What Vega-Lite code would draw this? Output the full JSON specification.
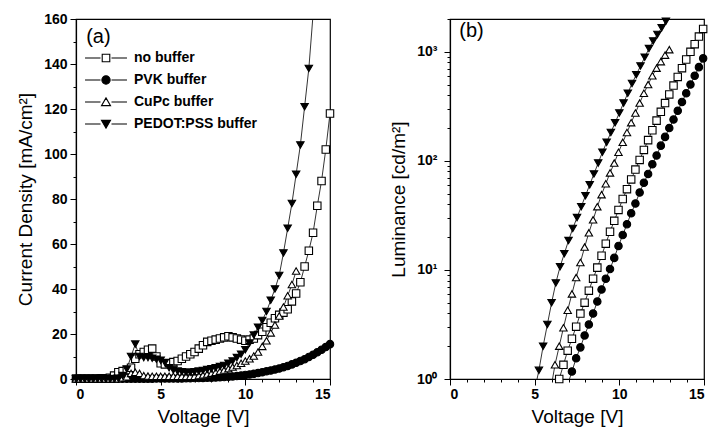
{
"$schema": "https://vega.github.io/schema/vega-lite/v6.json",
"padding": {"left": 16, "top": 11, "right": 0, "bottom": 0},
"background": "white",
"config": {
  "view": {"stroke": "black", "strokeWidth": 1.2},
  "font": "Liberation Sans",
  "axis": {"domainColor": "black", "tickColor": "black", "labelColor": "black", "titleColor": "black", "grid": false, "labelFont": "Liberation Sans", "labelFontSize": 14, "labelFontWeight": "bold", "titleFont": "Liberation Sans", "titleFontSize": 19, "titleFontWeight": "normal", "domainWidth": 1.2, "tickWidth": 1}
},
"spacing": 51,
"resolve": {"scale": {"shape": "independent", "fill": "independent", "stroke": "independent"}},
"datasets": {
"jv": [
{"s":"no buffer","V":0,"J":0.2},{"s":"no buffer","V":0.25,"J":0.2},{"s":"no buffer","V":0.5,"J":0.2},{"s":"no buffer","V":0.75,"J":0.2},{"s":"no buffer","V":1,"J":0.2},{"s":"no buffer","V":1.25,"J":0.2},{"s":"no buffer","V":1.5,"J":0.3},{"s":"no buffer","V":1.75,"J":0.3},{"s":"no buffer","V":2,"J":0.5},{"s":"no buffer","V":2.25,"J":1.5},{"s":"no buffer","V":2.5,"J":3},{"s":"no buffer","V":2.75,"J":3.5},{"s":"no buffer","V":3,"J":4},{"s":"no buffer","V":3.25,"J":5},{"s":"no buffer","V":3.5,"J":9},{"s":"no buffer","V":3.75,"J":11},{"s":"no buffer","V":4,"J":12},{"s":"no buffer","V":4.25,"J":13},{"s":"no buffer","V":4.5,"J":13.5},{"s":"no buffer","V":4.75,"J":10},{"s":"no buffer","V":5,"J":7},{"s":"no buffer","V":5.25,"J":6.5},{"s":"no buffer","V":5.5,"J":7},{"s":"no buffer","V":5.75,"J":7.5},{"s":"no buffer","V":6,"J":8},{"s":"no buffer","V":6.25,"J":9},{"s":"no buffer","V":6.5,"J":10},{"s":"no buffer","V":6.75,"J":11},{"s":"no buffer","V":7,"J":12},{"s":"no buffer","V":7.25,"J":13.5},{"s":"no buffer","V":7.5,"J":15},{"s":"no buffer","V":7.75,"J":16.5},{"s":"no buffer","V":8,"J":17},{"s":"no buffer","V":8.25,"J":17.5},{"s":"no buffer","V":8.5,"J":18},{"s":"no buffer","V":8.75,"J":18.5},{"s":"no buffer","V":9,"J":19},{"s":"no buffer","V":9.25,"J":18.5},{"s":"no buffer","V":9.5,"J":18},{"s":"no buffer","V":9.75,"J":17.5},{"s":"no buffer","V":10,"J":17},{"s":"no buffer","V":10.25,"J":17.5},{"s":"no buffer","V":10.5,"J":18},{"s":"no buffer","V":10.75,"J":19.5},{"s":"no buffer","V":11,"J":21},{"s":"no buffer","V":11.25,"J":23},{"s":"no buffer","V":11.5,"J":25},{"s":"no buffer","V":11.75,"J":27},{"s":"no buffer","V":12,"J":28.5},{"s":"no buffer","V":12.25,"J":29.5},{"s":"no buffer","V":12.5,"J":31},{"s":"no buffer","V":12.75,"J":34.5},{"s":"no buffer","V":13,"J":38},{"s":"no buffer","V":13.25,"J":43},{"s":"no buffer","V":13.5,"J":50},{"s":"no buffer","V":13.75,"J":57},{"s":"no buffer","V":14,"J":65},{"s":"no buffer","V":14.25,"J":77},{"s":"no buffer","V":14.5,"J":88},{"s":"no buffer","V":14.75,"J":102},{"s":"no buffer","V":15,"J":118},
{"s":"PVK buffer","V":0,"J":0.15},{"s":"PVK buffer","V":0.25,"J":0.15},{"s":"PVK buffer","V":0.5,"J":0.15},{"s":"PVK buffer","V":0.75,"J":0.15},{"s":"PVK buffer","V":1,"J":0.15},{"s":"PVK buffer","V":1.25,"J":0.15},{"s":"PVK buffer","V":1.5,"J":0.15},{"s":"PVK buffer","V":1.75,"J":0.15},{"s":"PVK buffer","V":2,"J":0.15},{"s":"PVK buffer","V":2.25,"J":0.15},{"s":"PVK buffer","V":2.5,"J":0.15},{"s":"PVK buffer","V":2.75,"J":0.15},{"s":"PVK buffer","V":3,"J":0.15},{"s":"PVK buffer","V":3.25,"J":0.15},{"s":"PVK buffer","V":3.5,"J":0.15},{"s":"PVK buffer","V":3.75,"J":0.15},{"s":"PVK buffer","V":4,"J":0.15},{"s":"PVK buffer","V":4.25,"J":0.15},{"s":"PVK buffer","V":4.5,"J":0.15},{"s":"PVK buffer","V":4.75,"J":0.2},{"s":"PVK buffer","V":5,"J":0.2},{"s":"PVK buffer","V":5.25,"J":0.2},{"s":"PVK buffer","V":5.5,"J":0.2},{"s":"PVK buffer","V":5.75,"J":0.2},{"s":"PVK buffer","V":6,"J":0.25},{"s":"PVK buffer","V":6.25,"J":0.25},{"s":"PVK buffer","V":6.5,"J":0.3},{"s":"PVK buffer","V":6.75,"J":0.35},{"s":"PVK buffer","V":7,"J":0.4},{"s":"PVK buffer","V":7.25,"J":0.45},{"s":"PVK buffer","V":7.5,"J":0.5},{"s":"PVK buffer","V":7.75,"J":0.55},{"s":"PVK buffer","V":8,"J":0.6},{"s":"PVK buffer","V":8.25,"J":0.7},{"s":"PVK buffer","V":8.5,"J":0.8},{"s":"PVK buffer","V":8.75,"J":0.9},{"s":"PVK buffer","V":9,"J":1},{"s":"PVK buffer","V":9.25,"J":1.15},{"s":"PVK buffer","V":9.5,"J":1.3},{"s":"PVK buffer","V":9.75,"J":1.55},{"s":"PVK buffer","V":10,"J":1.8},{"s":"PVK buffer","V":10.25,"J":2.05},{"s":"PVK buffer","V":10.5,"J":2.3},{"s":"PVK buffer","V":10.75,"J":2.65},{"s":"PVK buffer","V":11,"J":3},{"s":"PVK buffer","V":11.25,"J":3.4},{"s":"PVK buffer","V":11.5,"J":3.8},{"s":"PVK buffer","V":11.75,"J":4.25},{"s":"PVK buffer","V":12,"J":4.7},{"s":"PVK buffer","V":12.25,"J":5.25},{"s":"PVK buffer","V":12.5,"J":5.8},{"s":"PVK buffer","V":12.75,"J":6.5},{"s":"PVK buffer","V":13,"J":7.2},{"s":"PVK buffer","V":13.25,"J":8},{"s":"PVK buffer","V":13.5,"J":8.8},{"s":"PVK buffer","V":13.75,"J":9.8},{"s":"PVK buffer","V":14,"J":10.8},{"s":"PVK buffer","V":14.25,"J":11.9},{"s":"PVK buffer","V":14.5,"J":13},{"s":"PVK buffer","V":14.75,"J":14.2},{"s":"PVK buffer","V":15,"J":15.5},
{"s":"CuPc buffer","V":0,"J":0.1},{"s":"CuPc buffer","V":0.25,"J":0.1},{"s":"CuPc buffer","V":0.5,"J":0.1},{"s":"CuPc buffer","V":0.75,"J":0.1},{"s":"CuPc buffer","V":1,"J":0.1},{"s":"CuPc buffer","V":1.25,"J":0.1},{"s":"CuPc buffer","V":1.5,"J":0.1},{"s":"CuPc buffer","V":1.75,"J":0.1},{"s":"CuPc buffer","V":2,"J":0.1},{"s":"CuPc buffer","V":2.25,"J":0.1},{"s":"CuPc buffer","V":2.5,"J":0.1},{"s":"CuPc buffer","V":2.75,"J":0.5},{"s":"CuPc buffer","V":3,"J":1},{"s":"CuPc buffer","V":3.25,"J":2.5},{"s":"CuPc buffer","V":3.5,"J":3},{"s":"CuPc buffer","V":3.75,"J":2.5},{"s":"CuPc buffer","V":4,"J":1.5},{"s":"CuPc buffer","V":4.25,"J":1.3},{"s":"CuPc buffer","V":4.5,"J":1.2},{"s":"CuPc buffer","V":4.75,"J":1.2},{"s":"CuPc buffer","V":5,"J":1.2},{"s":"CuPc buffer","V":5.25,"J":1.2},{"s":"CuPc buffer","V":5.5,"J":1.2},{"s":"CuPc buffer","V":5.75,"J":1.2},{"s":"CuPc buffer","V":6,"J":1.2},{"s":"CuPc buffer","V":6.25,"J":1.2},{"s":"CuPc buffer","V":6.5,"J":1.2},{"s":"CuPc buffer","V":6.75,"J":1.2},{"s":"CuPc buffer","V":7,"J":1.2},{"s":"CuPc buffer","V":7.25,"J":1.5},{"s":"CuPc buffer","V":7.5,"J":1.8},{"s":"CuPc buffer","V":7.75,"J":2.2},{"s":"CuPc buffer","V":8,"J":2.6},{"s":"CuPc buffer","V":8.25,"J":3},{"s":"CuPc buffer","V":8.5,"J":3.5},{"s":"CuPc buffer","V":8.75,"J":4},{"s":"CuPc buffer","V":9,"J":4.6},{"s":"CuPc buffer","V":9.25,"J":5.3},{"s":"CuPc buffer","V":9.5,"J":6},{"s":"CuPc buffer","V":9.75,"J":7},{"s":"CuPc buffer","V":10,"J":8},{"s":"CuPc buffer","V":10.25,"J":9},{"s":"CuPc buffer","V":10.5,"J":10.2},{"s":"CuPc buffer","V":10.75,"J":12},{"s":"CuPc buffer","V":11,"J":14.5},{"s":"CuPc buffer","V":11.25,"J":17},{"s":"CuPc buffer","V":11.5,"J":20.5},{"s":"CuPc buffer","V":11.75,"J":24},{"s":"CuPc buffer","V":12,"J":28},{"s":"CuPc buffer","V":12.25,"J":32},{"s":"CuPc buffer","V":12.5,"J":37},{"s":"CuPc buffer","V":12.75,"J":42},{"s":"CuPc buffer","V":13,"J":48},
{"s":"PEDOT:PSS buffer","V":0,"J":0.1},{"s":"PEDOT:PSS buffer","V":0.25,"J":0.1},{"s":"PEDOT:PSS buffer","V":0.5,"J":0.1},{"s":"PEDOT:PSS buffer","V":0.75,"J":0.1},{"s":"PEDOT:PSS buffer","V":1,"J":0.1},{"s":"PEDOT:PSS buffer","V":1.25,"J":0.1},{"s":"PEDOT:PSS buffer","V":1.5,"J":0.1},{"s":"PEDOT:PSS buffer","V":1.75,"J":0.1},{"s":"PEDOT:PSS buffer","V":2,"J":0.1},{"s":"PEDOT:PSS buffer","V":2.25,"J":0.1},{"s":"PEDOT:PSS buffer","V":2.5,"J":0.3},{"s":"PEDOT:PSS buffer","V":2.75,"J":1.5},{"s":"PEDOT:PSS buffer","V":3,"J":4.4},{"s":"PEDOT:PSS buffer","V":3.25,"J":10},{"s":"PEDOT:PSS buffer","V":3.5,"J":15.5},{"s":"PEDOT:PSS buffer","V":3.75,"J":10},{"s":"PEDOT:PSS buffer","V":4,"J":9.5},{"s":"PEDOT:PSS buffer","V":4.25,"J":9.5},{"s":"PEDOT:PSS buffer","V":4.5,"J":9.2},{"s":"PEDOT:PSS buffer","V":4.75,"J":8.8},{"s":"PEDOT:PSS buffer","V":5,"J":8.3},{"s":"PEDOT:PSS buffer","V":5.25,"J":7.3},{"s":"PEDOT:PSS buffer","V":5.5,"J":5},{"s":"PEDOT:PSS buffer","V":5.75,"J":4},{"s":"PEDOT:PSS buffer","V":6,"J":3.5},{"s":"PEDOT:PSS buffer","V":6.25,"J":3.2},{"s":"PEDOT:PSS buffer","V":6.5,"J":3},{"s":"PEDOT:PSS buffer","V":6.75,"J":3},{"s":"PEDOT:PSS buffer","V":7,"J":3.2},{"s":"PEDOT:PSS buffer","V":7.25,"J":3.5},{"s":"PEDOT:PSS buffer","V":7.5,"J":3.8},{"s":"PEDOT:PSS buffer","V":7.75,"J":4.2},{"s":"PEDOT:PSS buffer","V":8,"J":4.6},{"s":"PEDOT:PSS buffer","V":8.25,"J":5},{"s":"PEDOT:PSS buffer","V":8.5,"J":5.5},{"s":"PEDOT:PSS buffer","V":8.75,"J":6},{"s":"PEDOT:PSS buffer","V":9,"J":7},{"s":"PEDOT:PSS buffer","V":9.25,"J":8},{"s":"PEDOT:PSS buffer","V":9.5,"J":9.5},{"s":"PEDOT:PSS buffer","V":9.75,"J":11},{"s":"PEDOT:PSS buffer","V":10,"J":13},{"s":"PEDOT:PSS buffer","V":10.25,"J":16},{"s":"PEDOT:PSS buffer","V":10.5,"J":19.5},{"s":"PEDOT:PSS buffer","V":10.75,"J":23},{"s":"PEDOT:PSS buffer","V":11,"J":26},{"s":"PEDOT:PSS buffer","V":11.25,"J":30},{"s":"PEDOT:PSS buffer","V":11.5,"J":35},{"s":"PEDOT:PSS buffer","V":11.75,"J":40},{"s":"PEDOT:PSS buffer","V":12,"J":46},{"s":"PEDOT:PSS buffer","V":12.25,"J":56},{"s":"PEDOT:PSS buffer","V":12.5,"J":67},{"s":"PEDOT:PSS buffer","V":12.75,"J":78},{"s":"PEDOT:PSS buffer","V":13,"J":91},{"s":"PEDOT:PSS buffer","V":13.25,"J":104},{"s":"PEDOT:PSS buffer","V":13.5,"J":121},{"s":"PEDOT:PSS buffer","V":13.75,"J":138},{"s":"PEDOT:PSS buffer","V":14,"J":162}
],
"lv": [
{"s":"no buffer","V":6.2,"L":0.76},{"s":"no buffer","V":6.45,"L":1.0},{"s":"no buffer","V":6.7,"L":1.35},{"s":"no buffer","V":6.95,"L":1.82},{"s":"no buffer","V":7.2,"L":2.34},{"s":"no buffer","V":7.45,"L":3.02},{"s":"no buffer","V":7.7,"L":3.98},{"s":"no buffer","V":7.95,"L":5.01},{"s":"no buffer","V":8.2,"L":6.46},{"s":"no buffer","V":8.45,"L":8.32},{"s":"no buffer","V":8.7,"L":10.5},{"s":"no buffer","V":8.95,"L":13.5},{"s":"no buffer","V":9.2,"L":17.4},{"s":"no buffer","V":9.45,"L":22.4},{"s":"no buffer","V":9.7,"L":28.2},{"s":"no buffer","V":9.95,"L":35.5},{"s":"no buffer","V":10.2,"L":44.7},{"s":"no buffer","V":10.45,"L":55},{"s":"no buffer","V":10.7,"L":67.6},{"s":"no buffer","V":10.95,"L":83.2},{"s":"no buffer","V":11.2,"L":102},{"s":"no buffer","V":11.45,"L":126},{"s":"no buffer","V":11.7,"L":155},{"s":"no buffer","V":11.95,"L":191},{"s":"no buffer","V":12.2,"L":234},{"s":"no buffer","V":12.45,"L":282},{"s":"no buffer","V":12.7,"L":339},{"s":"no buffer","V":12.95,"L":407},{"s":"no buffer","V":13.2,"L":490},{"s":"no buffer","V":13.45,"L":589},{"s":"no buffer","V":13.7,"L":708},{"s":"no buffer","V":13.95,"L":851},{"s":"no buffer","V":14.2,"L":1000},{"s":"no buffer","V":14.45,"L":1175},{"s":"no buffer","V":14.7,"L":1380},{"s":"no buffer","V":14.95,"L":1622},
{"s":"PVK buffer","V":6.95,"L":0.89},{"s":"PVK buffer","V":7.2,"L":1.17},{"s":"PVK buffer","V":7.45,"L":1.55},{"s":"PVK buffer","V":7.7,"L":1.95},{"s":"PVK buffer","V":7.95,"L":2.51},{"s":"PVK buffer","V":8.2,"L":3.16},{"s":"PVK buffer","V":8.45,"L":3.98},{"s":"PVK buffer","V":8.7,"L":5.13},{"s":"PVK buffer","V":8.95,"L":6.61},{"s":"PVK buffer","V":9.2,"L":8.32},{"s":"PVK buffer","V":9.45,"L":10.2},{"s":"PVK buffer","V":9.7,"L":12.9},{"s":"PVK buffer","V":9.95,"L":16.6},{"s":"PVK buffer","V":10.2,"L":20.9},{"s":"PVK buffer","V":10.45,"L":26.3},{"s":"PVK buffer","V":10.7,"L":33.1},{"s":"PVK buffer","V":10.95,"L":40.7},{"s":"PVK buffer","V":11.2,"L":51.3},{"s":"PVK buffer","V":11.45,"L":63.1},{"s":"PVK buffer","V":11.7,"L":75.9},{"s":"PVK buffer","V":11.95,"L":93.3},{"s":"PVK buffer","V":12.2,"L":112},{"s":"PVK buffer","V":12.45,"L":138},{"s":"PVK buffer","V":12.7,"L":166},{"s":"PVK buffer","V":12.95,"L":200},{"s":"PVK buffer","V":13.2,"L":240},{"s":"PVK buffer","V":13.45,"L":288},{"s":"PVK buffer","V":13.7,"L":347},{"s":"PVK buffer","V":13.95,"L":417},{"s":"PVK buffer","V":14.2,"L":501},{"s":"PVK buffer","V":14.45,"L":603},{"s":"PVK buffer","V":14.7,"L":724},{"s":"PVK buffer","V":14.95,"L":871},
{"s":"CuPc buffer","V":6.0,"L":0.89},{"s":"CuPc buffer","V":6.2,"L":1.35},{"s":"CuPc buffer","V":6.45,"L":2.0},{"s":"CuPc buffer","V":6.7,"L":2.95},{"s":"CuPc buffer","V":6.95,"L":4.27},{"s":"CuPc buffer","V":7.2,"L":6.03},{"s":"CuPc buffer","V":7.45,"L":8.51},{"s":"CuPc buffer","V":7.7,"L":11.7},{"s":"CuPc buffer","V":7.95,"L":16.2},{"s":"CuPc buffer","V":8.2,"L":21.9},{"s":"CuPc buffer","V":8.45,"L":28.8},{"s":"CuPc buffer","V":8.7,"L":38},{"s":"CuPc buffer","V":8.95,"L":49},{"s":"CuPc buffer","V":9.2,"L":61.7},{"s":"CuPc buffer","V":9.45,"L":77.6},{"s":"CuPc buffer","V":9.7,"L":95.5},{"s":"CuPc buffer","V":9.95,"L":120},{"s":"CuPc buffer","V":10.2,"L":148},{"s":"CuPc buffer","V":10.45,"L":182},{"s":"CuPc buffer","V":10.7,"L":224},{"s":"CuPc buffer","V":10.95,"L":275},{"s":"CuPc buffer","V":11.2,"L":339},{"s":"CuPc buffer","V":11.45,"L":417},{"s":"CuPc buffer","V":11.7,"L":501},{"s":"CuPc buffer","V":11.95,"L":603},{"s":"CuPc buffer","V":12.2,"L":708},{"s":"CuPc buffer","V":12.45,"L":813},{"s":"CuPc buffer","V":12.7,"L":933},{"s":"CuPc buffer","V":12.95,"L":1047},
{"s":"PEDOT:PSS buffer","V":5.0,"L":0.79},{"s":"PEDOT:PSS buffer","V":5.25,"L":1.2},{"s":"PEDOT:PSS buffer","V":5.5,"L":2.0},{"s":"PEDOT:PSS buffer","V":5.75,"L":3.16},{"s":"PEDOT:PSS buffer","V":6.0,"L":5.0},{"s":"PEDOT:PSS buffer","V":6.25,"L":7.6},{"s":"PEDOT:PSS buffer","V":6.5,"L":10.7},{"s":"PEDOT:PSS buffer","V":6.75,"L":14.1},{"s":"PEDOT:PSS buffer","V":7.0,"L":18.6},{"s":"PEDOT:PSS buffer","V":7.25,"L":24},{"s":"PEDOT:PSS buffer","V":7.5,"L":30.2},{"s":"PEDOT:PSS buffer","V":7.75,"L":38},{"s":"PEDOT:PSS buffer","V":8.0,"L":47.9},{"s":"PEDOT:PSS buffer","V":8.25,"L":60.3},{"s":"PEDOT:PSS buffer","V":8.5,"L":75.9},{"s":"PEDOT:PSS buffer","V":8.75,"L":95.5},{"s":"PEDOT:PSS buffer","V":9.0,"L":120},{"s":"PEDOT:PSS buffer","V":9.25,"L":148},{"s":"PEDOT:PSS buffer","V":9.5,"L":182},{"s":"PEDOT:PSS buffer","V":9.75,"L":224},{"s":"PEDOT:PSS buffer","V":10.0,"L":275},{"s":"PEDOT:PSS buffer","V":10.25,"L":339},{"s":"PEDOT:PSS buffer","V":10.5,"L":417},{"s":"PEDOT:PSS buffer","V":10.75,"L":513},{"s":"PEDOT:PSS buffer","V":11.0,"L":617},{"s":"PEDOT:PSS buffer","V":11.25,"L":741},{"s":"PEDOT:PSS buffer","V":11.5,"L":891},{"s":"PEDOT:PSS buffer","V":11.75,"L":1072},{"s":"PEDOT:PSS buffer","V":12.0,"L":1259},{"s":"PEDOT:PSS buffer","V":12.25,"L":1445},{"s":"PEDOT:PSS buffer","V":12.5,"L":1660},{"s":"PEDOT:PSS buffer","V":12.75,"L":1905},{"s":"PEDOT:PSS buffer","V":13.0,"L":2188}
]
},
"hconcat": [
{
  "width": 254, "height": 360,
  "data": {"name": "jv"},
  "resolve": {"scale": {"shape": "independent", "fill": "independent", "stroke": "independent"}},
  "encoding": {
    "x": {"field": "V", "type": "quantitative", "scale": {"domain": [0, 15], "nice": false, "zero": false},
      "axis": {"title": "Voltage [V]", "values": [0,1,2,3,4,5,6,7,8,9,10,11,12,13,14,15], "labelExpr": "datum.value % 5 == 0 ? datum.label : ''", "tickSize": {"condition": {"test": "datum.value % 5 == 0", "value": 6}, "value": 3}, "labelPadding": 2, "titlePadding": 6}},
    "y": {"field": "J", "type": "quantitative", "scale": {"domain": [0, 160], "nice": false},
      "axis": {"title": "Current Density [mA/cm²]", "values": [0,10,20,30,40,50,60,70,80,90,100,110,120,130,140,150,160], "labelExpr": "datum.value % 20 == 0 ? datum.label : ''", "tickSize": {"condition": {"test": "datum.value % 20 == 0", "value": 6}, "value": 3}, "labelPadding": 3, "titlePadding": 8}}
  },
  "layer": [
    {"mark": {"type": "line", "color": "black", "strokeWidth": 0.8, "clip": true},
     "encoding": {"detail": {"field": "s"}}},
    {"transform": [{"filter": "datum.J <= 160"}],
     "mark": {"type": "point", "stroke": "black", "strokeWidth": 1.1, "opacity": 1, "size": 55},
     "encoding": {
       "shape": {"field": "s", "type": "nominal", "scale": {"domain": ["no buffer", "PVK buffer", "CuPc buffer", "PEDOT:PSS buffer"], "range": ["square", "circle", "triangle-up", "triangle-down"]}, "legend": null},
       "fill": {"field": "s", "type": "nominal", "scale": {"domain": ["no buffer", "PVK buffer", "CuPc buffer", "PEDOT:PSS buffer"], "range": ["white", "black", "white", "black"]}, "legend": null}
     }},
    {"transform": [{"filter": "false"}],
     "mark": {"type": "point", "strokeWidth": 1.1, "opacity": 1},
     "encoding": {
       "shape": {"field": "s", "type": "nominal", "scale": {"domain": ["no buffer", "PVK buffer", "CuPc buffer", "PEDOT:PSS buffer"], "range": ["M-2.33,0H-0.61M0.61,0H2.33M-0.42,-0.42H0.42V0.42H-0.42Z", "M-2.33,0H-0.61M0.61,0H2.33M-0.46,0A0.46,0.46,0,1,0,0.46,0A0.46,0.46,0,1,0,-0.46,0Z", "M-2.33,0H-0.61M0.61,0H2.33M-0.5,0.4L0.5,0.4L0,-0.46Z", "M-2.33,0H-0.61M0.61,0H2.33M-0.5,-0.4L0.5,-0.4L0,0.46Z"]},
         "legend": {"title": null, "orient": "none", "legendX": 20, "legendY": 29, "padding": 0, "labelFont": "Liberation Sans", "labelFontSize": 14, "labelFontWeight": "bold", "labelColor": "black", "symbolSize": 324, "labelOffset": 18, "rowPadding": 5, "symbolStrokeWidth": 1.1}},
       "fill": {"field": "s", "type": "nominal", "scale": {"domain": ["no buffer", "PVK buffer", "CuPc buffer", "PEDOT:PSS buffer"], "range": ["white", "black", "white", "black"]}},
       "stroke": {"field": "s", "type": "nominal", "scale": {"domain": ["no buffer", "PVK buffer", "CuPc buffer", "PEDOT:PSS buffer"], "range": ["black", "black", "black", "black"]}}
     }},
    {"transform": [{"filter": "datum.s == 'no buffer' && datum.V == 0"}],
     "mark": {"type": "text", "text": "(a)", "fontSize": 20, "fontWeight": "normal", "font": "Liberation Sans", "align": "left", "baseline": "middle", "color": "black"},
     "encoding": {"x": {"datum": 0.6}, "y": {"datum": 152}}}
  ]
},
{
  "width": 254, "height": 360,
  "data": {"name": "lv"},
  "encoding": {
    "x": {"field": "V", "type": "quantitative", "scale": {"domain": [0, 15], "nice": false, "zero": false},
      "axis": {"title": "Voltage [V]", "values": [0,1,2,3,4,5,6,7,8,9,10,11,12,13,14,15], "labelExpr": "datum.value % 5 == 0 ? datum.label : ''", "tickSize": {"condition": {"test": "datum.value % 5 == 0", "value": 6}, "value": 3}, "labelPadding": 2, "titlePadding": 6}},
    "y": {"field": "L", "type": "quantitative", "scale": {"type": "log", "domain": [1, 2000], "nice": false},
      "axis": {"title": "Luminance [cd/m²]", "values": [1,2,3,4,5,6,7,8,9,10,20,30,40,50,60,70,80,90,100,200,300,400,500,600,700,800,900,1000,2000], "labelExpr": "datum.value == 1 ? '10⁰' : datum.value == 10 ? '10¹' : datum.value == 100 ? '10²' : datum.value == 1000 ? '10³' : ''", "tickSize": {"condition": {"test": "datum.value == 1 || datum.value == 10 || datum.value == 100 || datum.value == 1000", "value": 6}, "value": 3}, "labelPadding": 7, "titlePadding": 8}}
  },
  "layer": [
    {"mark": {"type": "line", "color": "black", "strokeWidth": 0.8, "clip": true},
     "encoding": {"detail": {"field": "s"}}},
    {"transform": [{"filter": "datum.L >= 1 && datum.L <= 2000"}],
     "mark": {"type": "point", "stroke": "black", "strokeWidth": 1.1, "opacity": 1, "size": 55},
     "encoding": {
       "shape": {"field": "s", "type": "nominal", "scale": {"domain": ["no buffer", "PVK buffer", "CuPc buffer", "PEDOT:PSS buffer"], "range": ["square", "circle", "triangle-up", "triangle-down"]}, "legend": null},
       "fill": {"field": "s", "type": "nominal", "scale": {"domain": ["no buffer", "PVK buffer", "CuPc buffer", "PEDOT:PSS buffer"], "range": ["white", "black", "white", "black"]}, "legend": null}
     }},
    {"transform": [{"filter": "datum.s == 'no buffer' && datum.V == 6.2"}],
     "mark": {"type": "text", "text": "(b)", "fontSize": 20, "fontWeight": "normal", "font": "Liberation Sans", "align": "left", "baseline": "middle", "color": "black"},
     "encoding": {"x": {"datum": 0.55}, "y": {"datum": 1550}}}
  ]
}
]
}
